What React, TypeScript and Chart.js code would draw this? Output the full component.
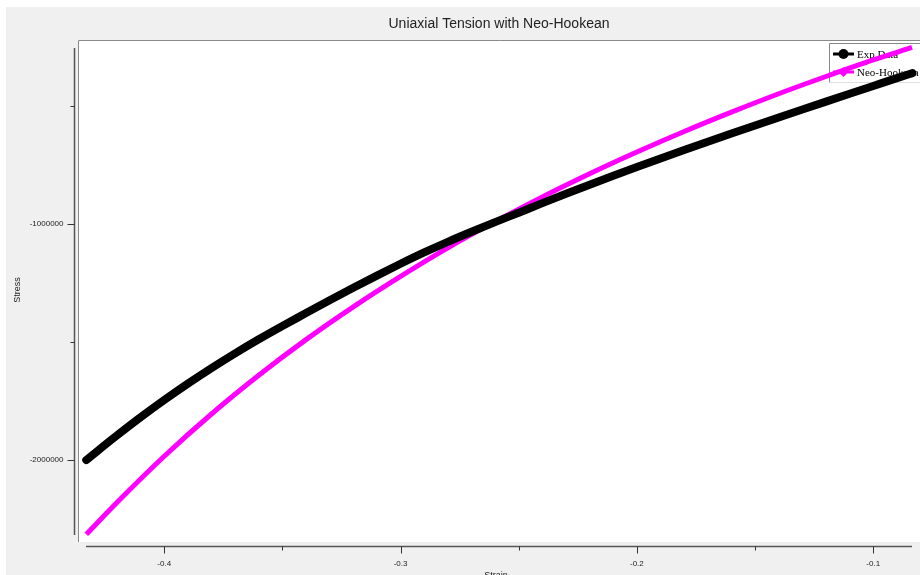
import { useEffect, useRef } from "react";
import { Chart, registerables } from "chart.js";

Chart.register(...registerables);

// ---- data ----
const titleText = "Uniaxial Tension with Neo-Hookean";
const xAxisTitle = "Strain";
const yAxisTitle = "Stress";
const seriesNames = ["Exp Data", "Neo-Hookean"];

const strainExp = [
  -0.433, -0.42, -0.41, -0.4, -0.39, -0.38, -0.37, -0.36, -0.35, -0.34, -0.33, -0.32,
  -0.31, -0.3, -0.29, -0.28, -0.27, -0.26, -0.25, -0.24, -0.23, -0.22, -0.21, -0.2,
  -0.19, -0.18, -0.17, -0.16, -0.15, -0.14, -0.13, -0.12, -0.11, -0.1, -0.09, -0.0834,
];
const stressExp = [
  -2000000, -1896000, -1819000, -1746000, -1676500, -1610500, -1548000, -1488500, -1432000,
  -1377500, -1323000, -1270000, -1218500, -1168500, -1120500, -1075500, -1033000, -992000,
  -952000, -911500, -872000, -833500, -795700, -758700, -722400, -686700, -651500, -616800,
  -582500, -548500, -514800, -481300, -448000, -414900, -381900, -360500,
];

const strainNH = [
  -0.433, -0.42, -0.4, -0.38, -0.36, -0.34, -0.32, -0.3, -0.28, -0.26, -0.24, -0.22,
  -0.2, -0.18, -0.16, -0.14, -0.12, -0.1, -0.0836,
];
const stressNH = [
  -2315000, -2180000, -1984000, -1805000, -1641000, -1490000, -1351000, -1222000, -1101000,
  -990000, -885000, -787000, -695000, -608000, -526000, -448000, -375000, -305000, -252000,
];

const xMin = -0.4331;
const xMax = -0.0836;
const yMin = -2317800;
const yMax = -254200;

const xMajorTicks = [-0.4, -0.3, -0.2, -0.1];
const xTickLabels = ["-0.4", "-0.3", "-0.2", "-0.1"];
const xMinorTicks = [-0.35, -0.25, -0.15];
const yMajorTicks = [-1000000, -2000000];
const yTickLabels = ["-1000000", "-2000000"];
const yMinorTicks = [-500000, -1500000];

const W = 920;
const H = 575;

export default function App() {
  const ref = useRef<HTMLCanvasElement | null>(null);

  useEffect(() => {
    document.body.style.margin = "0";
    const canvas = ref.current;
    if (!canvas) return;

    const frame = {
      id: "frame",
      beforeDraw(chart: any) {
        const ctx = chart.ctx as CanvasRenderingContext2D;
        const xs = chart.scales.x;
        const ys = chart.scales.y;
        const area = chart.chartArea;
        ctx.save();
        ctx.fillStyle = "#ffffff";
        ctx.fillRect(0, 0, W, H);
        ctx.fillStyle = "#f0f0f0";
        ctx.fillRect(6, 7, W - 6, H - 7);
        // plot box
        const boxL = area.left - 8;
        const boxT = area.top - 8;
        const boxB = area.bottom + 7;
        ctx.fillStyle = "#ffffff";
        ctx.fillRect(boxL, boxT, W - boxL, boxB - boxT);
        ctx.strokeStyle = "#8a8a8a";
        ctx.lineWidth = 1;
        ctx.beginPath();
        ctx.moveTo(boxL + 0.5, boxB);
        ctx.lineTo(boxL + 0.5, boxT + 0.5);
        ctx.lineTo(W, boxT + 0.5);
        ctx.stroke();

        // axes lines
        const yAxisX = area.left - 11.5;
        const xAxisY = area.bottom + 11.5;
        ctx.strokeStyle = "#555555";
        ctx.lineWidth = 1.5;
        ctx.beginPath();
        ctx.moveTo(yAxisX, area.top);
        ctx.lineTo(yAxisX, area.bottom);
        ctx.moveTo(area.left, xAxisY);
        ctx.lineTo(area.right, xAxisY);
        ctx.stroke();

        // ticks
        ctx.lineWidth = 1;
        ctx.strokeStyle = "#333333";
        ctx.beginPath();
        xMajorTicks.forEach((v) => {
          const px = Math.round(xs.getPixelForValue(v)) + 0.5;
          ctx.moveTo(px, xAxisY);
          ctx.lineTo(px, xAxisY + 7);
        });
        xMinorTicks.forEach((v) => {
          const px = Math.round(xs.getPixelForValue(v)) + 0.5;
          ctx.moveTo(px, xAxisY);
          ctx.lineTo(px, xAxisY + 4);
        });
        yMajorTicks.forEach((v) => {
          const py = Math.round(ys.getPixelForValue(v)) + 0.5;
          ctx.moveTo(yAxisX, py);
          ctx.lineTo(yAxisX - 7, py);
        });
        yMinorTicks.forEach((v) => {
          const py = Math.round(ys.getPixelForValue(v)) + 0.5;
          ctx.moveTo(yAxisX, py);
          ctx.lineTo(yAxisX - 4, py);
        });
        ctx.stroke();

        // tick labels
        ctx.fillStyle = "#222222";
        ctx.font = "8px 'Liberation Sans', Arial, sans-serif";
        ctx.textAlign = "center";
        ctx.textBaseline = "middle";
        xMajorTicks.forEach((v, i) => {
          ctx.fillText(xTickLabels[i], xs.getPixelForValue(v), xAxisY + 17);
        });
        ctx.textAlign = "right";
        yMajorTicks.forEach((v, i) => {
          ctx.fillText(yTickLabels[i], yAxisX - 11, ys.getPixelForValue(v));
        });

        // title
        ctx.fillStyle = "#222222";
        ctx.font = "14px 'Liberation Sans', Arial, sans-serif";
        ctx.textAlign = "center";
        ctx.textBaseline = "middle";
        ctx.fillText(titleText, 499, 24);

        // axis titles
        ctx.font = "9px 'Liberation Sans', Arial, sans-serif";
        ctx.fillStyle = "#222222";
        ctx.textBaseline = "top";
        ctx.fillText(xAxisTitle, 496, 571);
        ctx.save();
        ctx.translate(18, 290);
        ctx.rotate(-Math.PI / 2);
        ctx.textAlign = "center";
        ctx.textBaseline = "middle";
        ctx.fillText(yAxisTitle, 0, 0);
        ctx.restore();
        ctx.restore();
      },
      beforeDatasetsDraw(chart: any) {
        const ctx = chart.ctx as CanvasRenderingContext2D;
        ctx.save();
        const lx = 829;
        const ly = 43;
        ctx.fillStyle = "#ffffff";
        ctx.fillRect(lx, ly, W - lx, 39);
        ctx.strokeStyle = "#888888";
        ctx.lineWidth = 1;
        ctx.beginPath();
        ctx.moveTo(lx + 0.5, ly + 39.5);
        ctx.lineTo(lx + 0.5, ly + 0.5);
        ctx.lineTo(W, ly + 0.5);
        ctx.stroke();
        ctx.strokeStyle = "#dddddd";
        ctx.beginPath();
        ctx.moveTo(lx + 1, ly + 39.5);
        ctx.lineTo(W, ly + 39.5);
        ctx.stroke();

        const colors = ["#000000", "#ff00ff"];
        const rows = [54, 72];
        rows.forEach((ry, i) => {
          ctx.strokeStyle = colors[i];
          ctx.lineWidth = 3;
          ctx.beginPath();
          ctx.moveTo(833, ry);
          ctx.lineTo(854, ry);
          ctx.stroke();
          ctx.fillStyle = colors[i];
          ctx.beginPath();
          if (i === 0) {
            ctx.arc(843.5, ry, 5, 0, Math.PI * 2);
          } else {
            ctx.moveTo(843.5, ry - 5);
            ctx.lineTo(848.5, ry);
            ctx.lineTo(843.5, ry + 5);
            ctx.lineTo(838.5, ry);
            ctx.closePath();
          }
          ctx.fill();
          ctx.fillStyle = "#000000";
          ctx.font = "11px 'Liberation Serif', 'Times New Roman', serif";
          ctx.textAlign = "left";
          ctx.textBaseline = "middle";
          ctx.fillText(seriesNames[i], 857, ry + 1);
        });
        ctx.restore();
      },
    };

    const chart = new Chart(canvas, {
      type: "line",
      data: {
        datasets: [
          {
            label: seriesNames[0],
            data: strainExp.map((x, i) => ({ x, y: stressExp[i] })),
            borderColor: "#000000",
            backgroundColor: "#000000",
            borderWidth: 8,
            pointRadius: 0,
            borderCapStyle: "round",
            borderJoinStyle: "round",
            cubicInterpolationMode: "monotone",
            clip: false,
          },
          {
            label: seriesNames[1],
            data: strainNH.map((x, i) => ({ x, y: stressNH[i] })),
            borderColor: "#ff00ff",
            backgroundColor: "#ff00ff",
            borderWidth: 5,
            pointRadius: 0,
            cubicInterpolationMode: "monotone",
            clip: false,
          },
        ],
      },
      options: {
        responsive: false,
        animation: false,
        layout: { padding: { left: 86, right: 8, top: 48, bottom: 40 } },
        plugins: {
          legend: { display: false },
          title: { display: false },
          tooltip: { enabled: false },
        },
        scales: {
          x: { type: "linear", min: xMin, max: xMax, display: false },
          y: { type: "linear", min: yMin, max: yMax, display: false },
        },
      },
      plugins: [frame],
    } as any);

    return () => chart.destroy();
  }, []);

  return (
    <div style={{ position: "fixed", left: 0, top: 0, width: W, height: H }}>
      <canvas ref={ref} width={W} height={H} style={{ display: "block", width: W, height: H }} />
    </div>
  );
}
